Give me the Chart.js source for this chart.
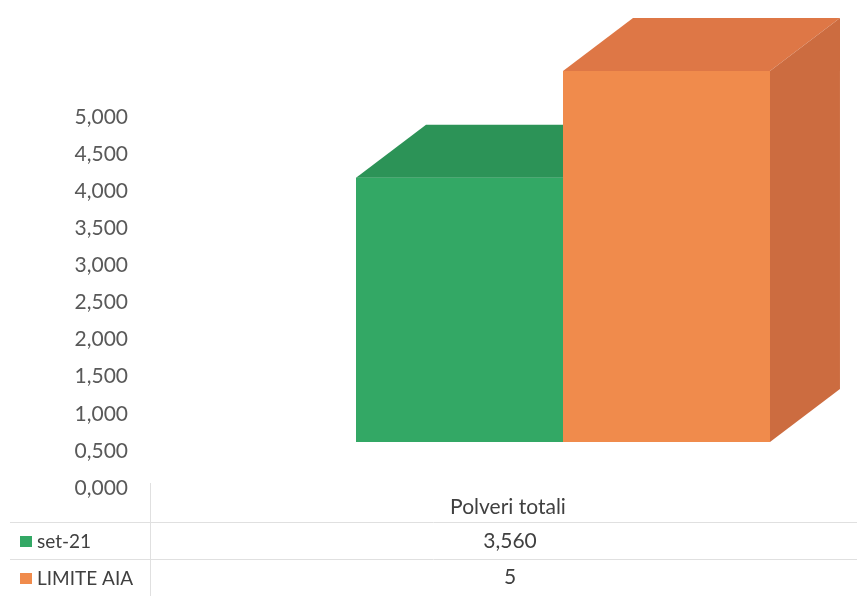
<!DOCTYPE html>
<html>
<head>
<meta charset="utf-8">
<title>Polveri totali</title>
<script src="https://cdn.jsdelivr.net/npm/chart.js@4.4.0/dist/chart.umd.min.js"></script>
<style>
  html, body { margin: 0; padding: 0; background: #fff; }
</style>
</head>
<body>
<canvas id="polveriChart" width="857" height="596"></canvas>
<script>
// data
var categories = ['Polveri totali'];
var seriesNames = ['set-21', 'LIMITE AIA'];
var set21 = [3.56];
var limiteAia = [5];
var tableValues = ['3,560', '5'];   // as printed in the data table
var yMin = 0, yMax = 5, yStep = 0.5;

// depth of the 3d boxes (pixels)
var depthX = 70, depthY = -53;

// draws top + side of each bar, then its front again so the order is right
var box3d = {
  id: 'box3d',
  afterDatasetsDraw: function(chart) {
    var ctx = chart.ctx;
    ctx.save();
    chart.data.datasets.forEach(function(ds, i) {
      var meta = chart.getDatasetMeta(i);
      meta.data.forEach(function(bar) {
        var p = bar.getProps(['x', 'y', 'base', 'width'], true);
        var l = p.x - p.width / 2, r = p.x + p.width / 2, t = p.y, b = p.base;

        ctx.fillStyle = ds.topColor;
        ctx.beginPath();
        ctx.moveTo(l, t);
        ctx.lineTo(l + depthX, t + depthY);
        ctx.lineTo(r + depthX, t + depthY);
        ctx.lineTo(r, t);
        ctx.closePath();
        ctx.fill();

        ctx.fillStyle = ds.sideColor;
        ctx.beginPath();
        ctx.moveTo(r, t);
        ctx.lineTo(r + depthX, t + depthY);
        ctx.lineTo(r + depthX, b + depthY);
        ctx.lineTo(r, b);
        ctx.closePath();
        ctx.fill();

        ctx.fillStyle = ds.backgroundColor;
        ctx.fillRect(l, t, r - l, b - t);
      });
    });
    ctx.restore();
  }
};

// excel style data table under the plot
var dataTable = {
  id: 'dataTable',
  afterDraw: function(chart) {
    var ctx = chart.ctx;
    ctx.save();
    ctx.strokeStyle = '#e0e0e0';
    ctx.lineWidth = 1;
    ctx.beginPath();
    ctx.moveTo(150.5, 483);
    ctx.lineTo(150.5, 596);
    ctx.moveTo(10, 522.5);
    ctx.lineTo(857, 522.5);
    ctx.moveTo(10, 559.5);
    ctx.lineTo(857, 559.5);
    ctx.stroke();

    ctx.fillStyle = '#404040';
    ctx.font = '21px Lato';
    ctx.textAlign = 'center';
    ctx.textBaseline = 'middle';
    ctx.fillText(categories[0], 508, 507);
    ctx.fillText(tableValues[0], 510, 541);
    ctx.fillText(tableValues[1], 510, 577);

    var rowsY = [542, 579];
    ctx.font = '19px Lato';
    ctx.textAlign = 'left';
    chart.data.datasets.forEach(function(ds, i) {
      ctx.fillStyle = ds.backgroundColor;
      ctx.fillRect(20, rowsY[i] - 6, 12, 11);
      ctx.fillStyle = '#404040';
      ctx.fillText(ds.label, 37, rowsY[i]);
    });
    ctx.restore();
  }
};

var canvas = document.getElementById('polveriChart');
var polveriChart = new Chart(canvas, {
  type: 'bar',
  data: {
    labels: categories,
    datasets: [{
      label: seriesNames[0],
      data: set21,
      backgroundColor: '#33a865',
      topColor: '#2c9357',
      sideColor: '#27824d',
      categoryPercentage: 0.704,
      barPercentage: 1.0
    }, {
      label: seriesNames[1],
      data: limiteAia,
      backgroundColor: '#f08b4c',
      topColor: '#de7746',
      sideColor: '#cc6c40',
      categoryPercentage: 0.704,
      barPercentage: 1.0
    }]
  },
  options: {
    responsive: false,
    animation: false,
    layout: { padding: { top: 71, bottom: 154, left: 0, right: 0 } },
    plugins: {
      legend: { display: false },
      tooltip: { enabled: false }
    },
    scales: {
      x: { display: false },
      y: {
        min: yMin,
        max: yMax,
        grid: { display: false, drawTicks: false },
        border: { display: false },
        afterFit: function(scale) {
          scale.width = 269;
          scale.paddingTop = 0;
          scale.paddingBottom = 0;
        },
        ticks: {
          stepSize: yStep,
          padding: 141,
          labelOffset: 46,
          color: '#595959',
          font: { family: 'Lato', size: 21 },
          callback: function(v) { return v.toFixed(3).replace('.', ','); }
        }
      }
    }
  },
  plugins: [box3d, dataTable]
});
</script>
</body>
</html>
